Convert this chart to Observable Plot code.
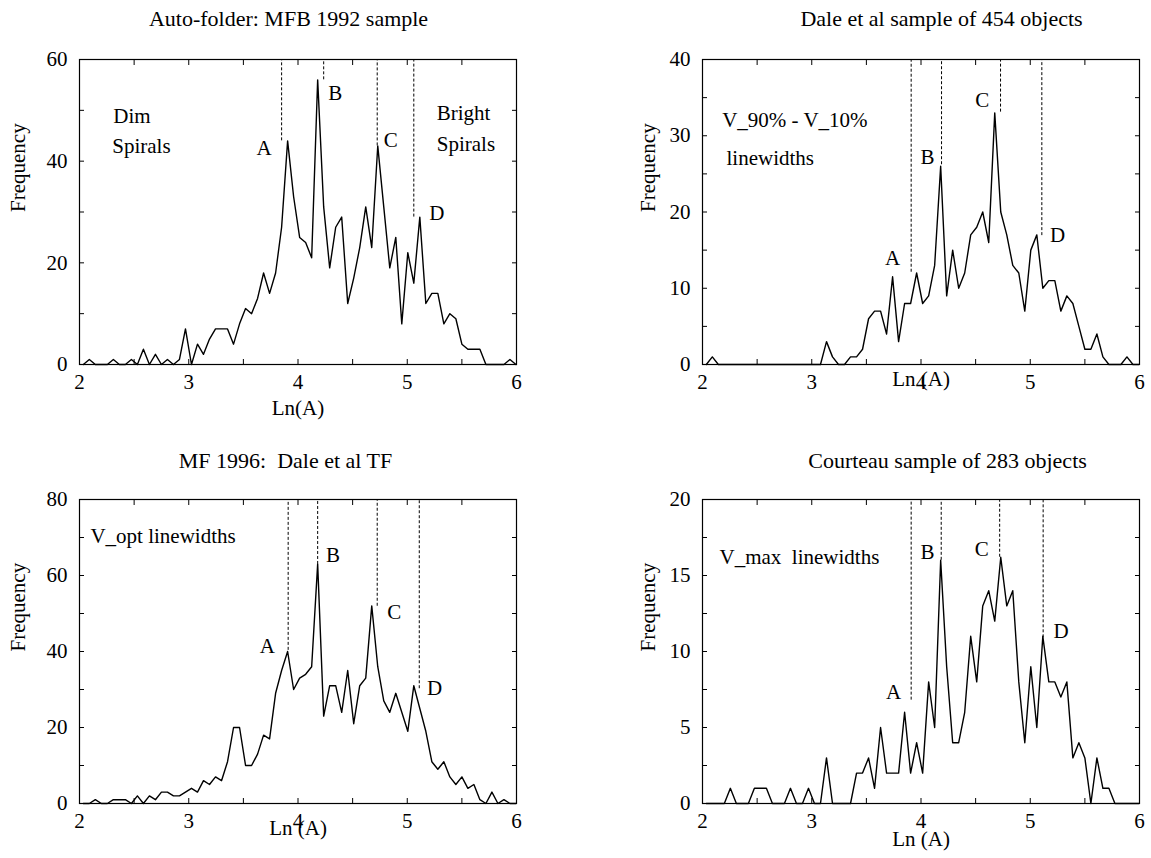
<!DOCTYPE html>
<html><head><meta charset="utf-8">
<script src="https://cdn.jsdelivr.net/npm/d3@7"></script>
<script src="https://cdn.jsdelivr.net/npm/@observablehq/plot@0.6"></script>
<style>
body{margin:0;background:#fff;}
#root{position:relative;width:1151px;height:858px;overflow:hidden;}
#root svg{position:absolute;overflow:visible;}
</style></head><body><div id="root"></div>
<script>
// Bin centres, Ln(A)
const lnA = [
  2.035, 2.090, 2.145, 2.200, 2.255, 2.310, 2.365, 2.420, 2.475, 2.530,
  2.585, 2.640, 2.695, 2.750, 2.805, 2.860, 2.915, 2.970, 3.025, 3.080,
  3.135, 3.190, 3.245, 3.300, 3.355, 3.410, 3.465, 3.520, 3.575, 3.630,
  3.685, 3.740, 3.795, 3.850, 3.905, 3.960, 4.015, 4.070, 4.125, 4.180,
  4.235, 4.290, 4.345, 4.400, 4.455, 4.510, 4.565, 4.620, 4.675, 4.730,
  4.785, 4.840, 4.895, 4.950, 5.005, 5.060, 5.115, 5.170, 5.225, 5.280,
  5.335, 5.390, 5.445, 5.500, 5.555, 5.610, 5.665, 5.720, 5.775, 5.830,
  5.885, 5.940, 5.995
];
// Frequencies per bin
const mfb1992 = [
  0, 1, 0, 0, 0, 1, 0, 0, 1, 0,
  3, 0, 2, 0, 1, 0, 1, 7, 0, 4,
  2, 5, 7, 7, 7, 4, 8, 11, 10, 13,
  18, 14, 18, 27, 44, 33, 25, 24, 21, 56,
  31, 19, 27, 29, 12, 17, 23, 31, 23, 43,
  31, 19, 25, 8, 22, 16, 29, 12, 14, 14,
  8, 10, 9, 4, 3, 3, 3, 0, 0, 0,
  0, 1, 0
];
const dale454 = [
  0, 1, 0, 0, 0, 0, 0, 0, 0, 0,
  0, 0, 0, 0, 0, 0, 0, 0, 0, 0,
  3, 1, 0, 0, 1, 1, 2, 6, 7, 7,
  4, 11.5, 3, 8, 8, 12, 8, 9, 13, 26,
  9, 15, 10, 12, 17, 18, 20, 16, 33, 20,
  17, 13, 12, 7, 15, 17, 10, 11, 11, 7,
  9, 8, 5, 2, 2, 4, 1, 0, 0, 0,
  1, 0, 0
];
const mf1996 = [
  0, 0, 1, 0, 0, 1, 1, 1, 0, 2,
  0, 2, 1, 3, 3, 2, 2, 3, 4, 3,
  6, 5, 7, 6, 11, 20, 20, 10, 10, 13,
  18, 17, 29, 35, 40, 30, 33, 34, 36, 63,
  23, 31, 31, 24, 35, 21, 31, 33, 52, 36,
  27, 24, 29, 24, 19, 31, 25, 19, 11, 9,
  11, 7, 5, 7, 4, 5, 1, 0, 3, 0,
  1, 0, 0
];
const courteau283 = [
  0, 0, 0, 0, 1, 0, 0, 0, 1, 1,
  1, 0, 0, 0, 1, 0, 0, 1, 0, 0,
  3, 0, 0, 0, 0, 2, 2, 3, 1, 5,
  2, 2, 2, 6, 2, 4, 2, 8, 5, 16,
  9, 4, 4, 6, 11, 8, 13, 14, 12, 16.2,
  13, 14, 8, 4, 9, 5, 11, 8, 8, 7,
  8, 3, 4, 3, 0, 3, 1, 1, 0, 0,
  0, 0, 0
];

const xTicks = [2, 2.5, 3, 3.5, 4, 4.5, 5, 5.5, 6];
const xTickLabels = [2, 3, 4, 5, 6];

const panels = [
  {
    id: "p1", left: 0, top: 0, width: 575, height: 430, mr: 59, mb: 66,
    values: mfb1992, yMax: 60,
    yTicks: [0, 10, 20, 30, 40, 50, 60], yTickLabels: [0, 20, 40, 60],
    title: "Auto-folder: MFB 1992 sample", titleDx: -9.5, titleDy: -49,
    xLabel: "Ln(A)", xLabelDx: 0, xLabelDy: 50, yLabelDx: -61,
    markX: [3.85, 4.235, 4.725, 5.06], markY: [44, 56, 43, 29],
    labelText: ["A", "B", "C", "D"], labelX: [3.69, 4.34, 4.85, 5.27], labelY: [42.5, 53.4, 44.2, 29.8],
    noteText: ["Dim", "Spirals", "Bright", "Spirals"], noteX: [2.31, 2.30, 5.27, 5.27], noteY: [48.8, 42.9, 49.4, 43.4]
  },
  {
    id: "p2", left: 623, top: 0, width: 528, height: 430, mr: 12, mb: 66,
    values: dale454, yMax: 40,
    yTicks: [0, 5, 10, 15, 20, 25, 30, 35, 40], yTickLabels: [0, 10, 20, 30, 40],
    title: "Dale et al sample of 454 objects", titleDx: 20.5, titleDy: -49,
    xLabel: "Ln (A)", xLabelDx: 0, xLabelDy: 21, yLabelDx: -54,
    markX: [3.91, 4.188, 4.728, 5.106], markY: [12.1, 26.2, 33.1, 16.9],
    labelText: ["A", "B", "C", "D"], labelX: [3.74, 4.06, 4.56, 5.25], labelY: [13.9, 27.2, 34.6, 16.9],
    noteText: ["V_90% - V_10%", "linewidths"], noteX: [2.18, 2.22], noteY: [32, 27.1]
  },
  {
    id: "p3", left: 0, top: 440, width: 575, height: 418, mr: 59, mb: 55,
    values: mf1996, yMax: 80,
    yTicks: [0, 10, 20, 30, 40, 50, 60, 70, 80], yTickLabels: [0, 20, 40, 60, 80],
    title: "MF 1996:\u00a0 Dale et al TF", titleDx: -12.5, titleDy: -47,
    xLabel: "Ln (A)", xLabelDx: 0, xLabelDy: 31, yLabelDx: -61,
    markX: [3.91, 4.18, 4.725, 5.11], markY: [40.3, 62.9, 51.9, 30.2],
    labelText: ["A", "B", "C", "D"], labelX: [3.72, 4.32, 4.88, 5.25], labelY: [41.3, 65.3, 50.3, 30.2],
    noteText: ["V_opt linewidths"], noteX: [2.1], noteY: [70.3]
  },
  {
    id: "p4", left: 623, top: 440, width: 528, height: 418, mr: 12, mb: 55,
    values: courteau283, yMax: 20,
    yTicks: [0, 2.5, 5, 7.5, 10, 12.5, 15, 17.5, 20], yTickLabels: [0, 5, 10, 15, 20],
    title: "Courteau sample of 283 objects", titleDx: 26.5, titleDy: -47,
    xLabel: "Ln (A)", xLabelDx: 0, xLabelDy: 42, yLabelDx: -54,
    markX: [3.91, 4.185, 4.72, 5.118], markY: [6.8, 16, 16.2, 10.9],
    labelText: ["A", "B", "C", "D"], labelX: [3.75, 4.06, 4.556, 5.283], labelY: [7.3, 16.5, 16.7, 11.3],
    noteText: ["V_max\u00a0 linewidths"], noteX: [2.156], noteY: [16.2]
  }
];

const FONT = "'Liberation Serif', 'Times New Roman', serif";
const root = document.getElementById("root");

for (const p of panels) {
  const chart = Plot.plot({
    width: p.width, height: p.height,
    marginLeft: 79, marginRight: p.mr, marginTop: 59, marginBottom: p.mb,
    style: {fontFamily: FONT, fontSize: "21px", color: "#000", background: "transparent", overflow: "visible"},
    x: {domain: [2, 6]},
    y: {domain: [0, p.yMax]},
    marks: [
      Plot.ruleX(p.markX, {x: d => d, y1: (d, i) => p.markY[i], y2: p.yMax, stroke: "#000", strokeWidth: 1, strokeDasharray: "3,2"}),
      Plot.line(p.values, {x: (d, i) => lnA[i], y: d => d, stroke: "#000", strokeWidth: 1.4}),
      Plot.frame({stroke: "#000", strokeWidth: 1.2}),
      Plot.axisX(xTicks, {anchor: "bottom", tickSize: -5, tickFormat: () => "", label: null}),
      Plot.axisX(xTicks, {anchor: "top", tickSize: -5, tickFormat: () => "", label: null}),
      Plot.axisX(xTickLabels, {anchor: "bottom", tickSize: 0, tickPadding: 10, label: null, fontSize: 21}),
      Plot.axisY(p.yTicks, {anchor: "left", tickSize: -5, tickFormat: () => "", label: null}),
      Plot.axisY(p.yTicks, {anchor: "right", tickSize: -5, tickFormat: () => "", label: null}),
      Plot.axisY(p.yTickLabels, {anchor: "left", tickSize: 0, tickPadding: 12, label: null, fontSize: 21}),
      Plot.text(p.labelText, {x: (d, i) => p.labelX[i], y: (d, i) => p.labelY[i], text: d => d, fontSize: 21, fill: "#000"}),
      Plot.text(p.noteText, {x: (d, i) => p.noteX[i], y: (d, i) => p.noteY[i], text: d => d, fontSize: 21, fill: "#000", textAnchor: "start"}),
      Plot.text([p.title], {frameAnchor: "top", dx: p.titleDx, dy: p.titleDy, text: d => d, fontSize: 22, fill: "#000"}),
      Plot.text([p.xLabel], {frameAnchor: "bottom", dx: p.xLabelDx, dy: p.xLabelDy, text: d => d, fontSize: 21, fill: "#000"}),
      Plot.text(["Frequency"], {frameAnchor: "left", dx: p.yLabelDx, rotate: -90, text: d => d, fontSize: 21, fill: "#000"})
    ]
  });
  chart.style.left = p.left + "px";
  chart.style.top = p.top + "px";
  root.appendChild(chart);
}
</script>
</body></html>
